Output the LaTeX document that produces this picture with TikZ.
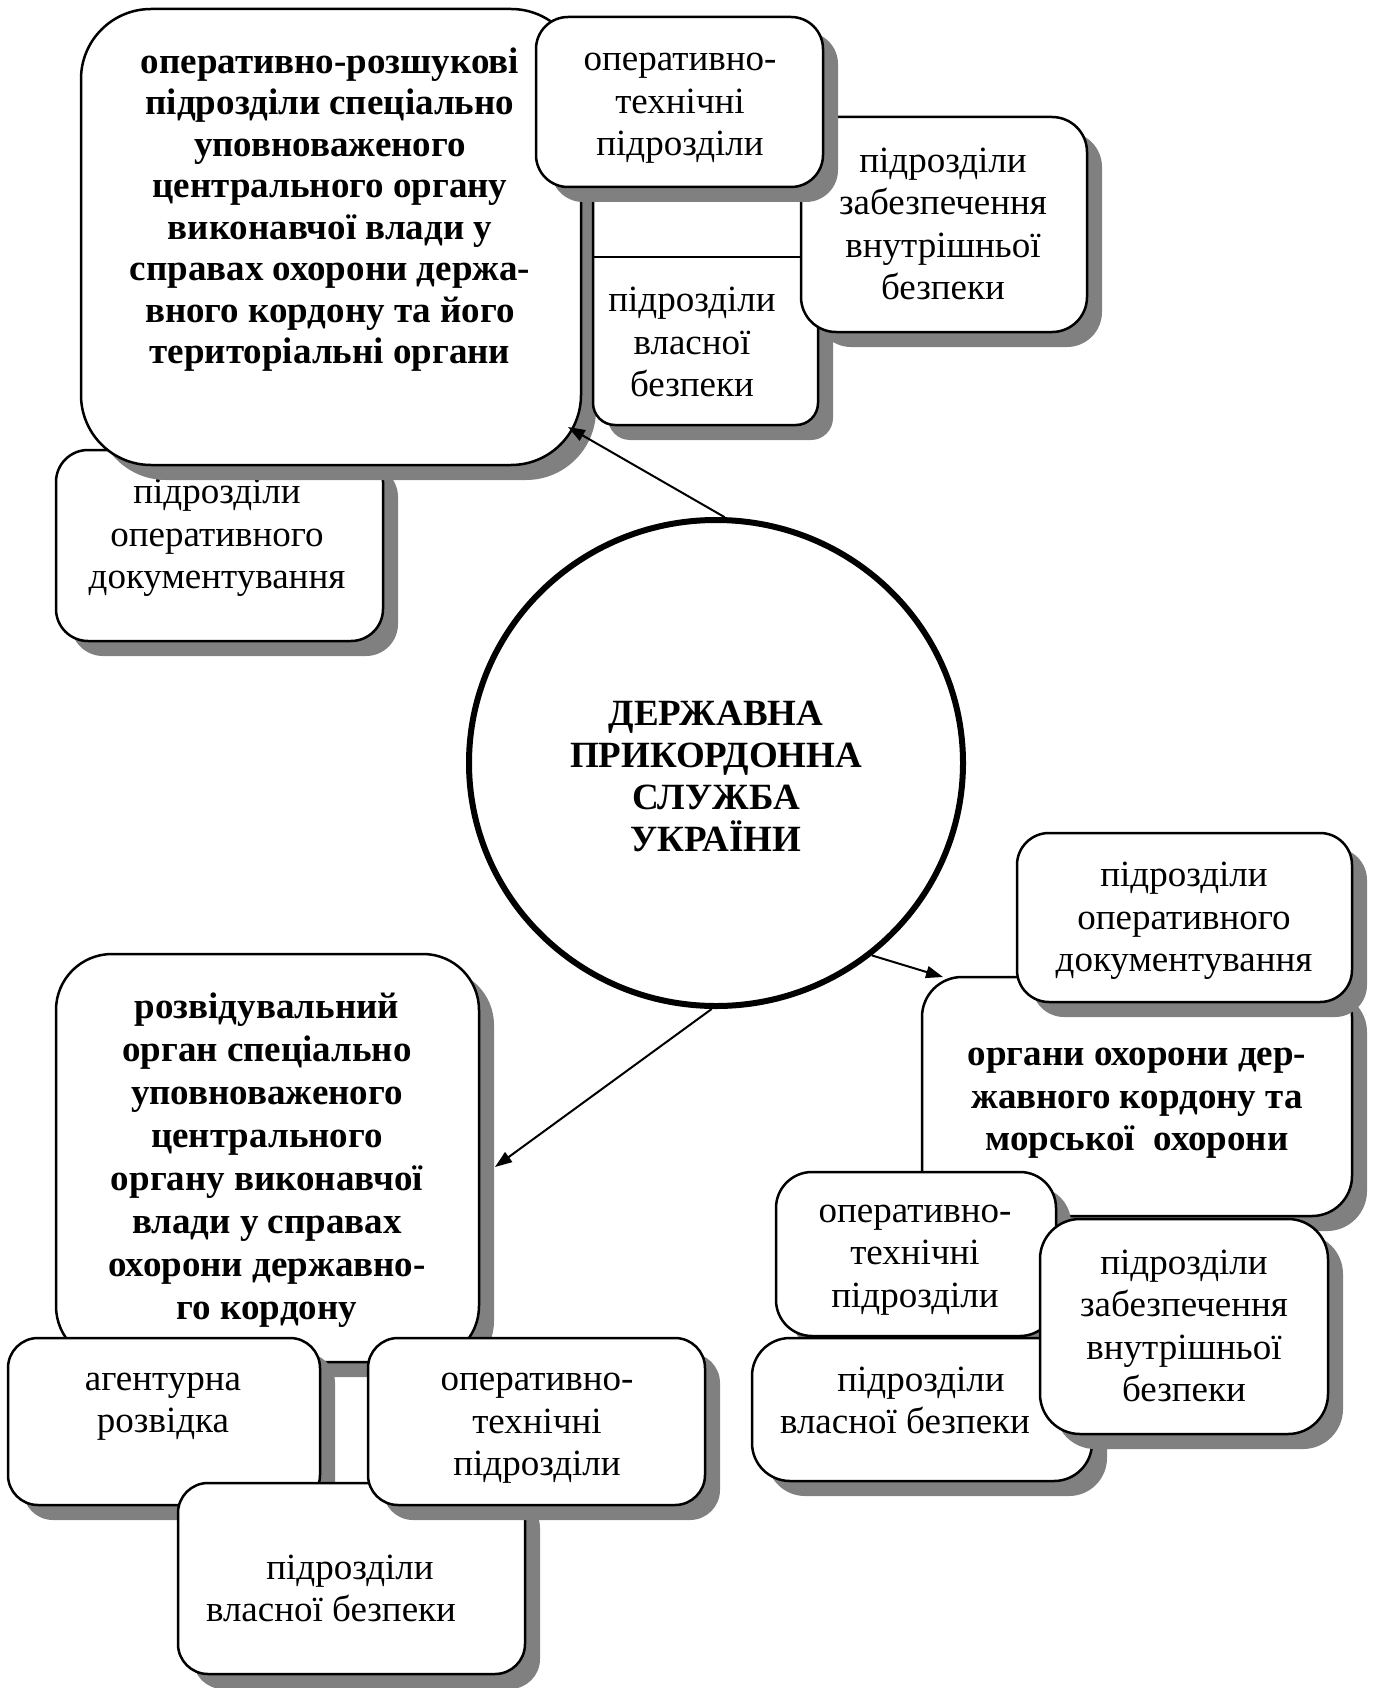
\documentclass[tikz,border=0pt]{standalone}
\usepackage{fontspec}
\setmainfont{Liberation Serif}
\usetikzlibrary{shadows,arrows.meta,shapes.geometric}
\begin{document}
\begin{tikzpicture}[x=1pt,y=-1pt,
  box/.style={draw=black, line width=2.5pt, fill=white, inner sep=0pt, outer sep=0pt,
     drop shadow={shadow xshift=15pt, shadow yshift=-15pt, fill=black!50, opacity=1, draw=none}},
  txt/.style={align=center, inner sep=0pt, font=\fontsize{37}{42.5}\selectfont},
  btxt/.style={align=center, inner sep=0pt, font=\fontsize{37}{41.5}\selectfont\bfseries},
  arr/.style={line width=2pt, -{Triangle[length=17pt,width=12pt]}}
]
\fill[white] (0,0) rectangle (1376,1688);
\useasboundingbox (0,0) rectangle (1376,1688);

% ---------- top cluster ----------
\node[box, rounded corners=32pt, minimum width=327pt, minimum height=191pt] (E) at (219.5,545.5) {};
\node[txt] (Et) at (217,538) {підрозділи\\оперативного\hspace*{44pt}\\документування};

\node[box, rounded corners=70pt, minimum width=500pt, minimum height=456pt] (A) at (331,237) {};
\node[btxt] (At) at (330,209.5) {оперативно-розшукові\\підрозділи спеціально\\уповноваженого\\центрального органу\\виконавчої влади у\\справах охорони держа-\\вного кордону та його\\територіальні органи};

\node[box, rounded corners=22pt, minimum width=225pt, minimum height=275pt] (D) at (705.5,287.5) {};
\draw[line width=2pt] (D.west |- 0,257) -- (D.east |- 0,257);
\node[txt] (Dt) at (692,342) {підрозділи\\власної\\безпеки};

\node[box, rounded corners=35pt, minimum width=286pt, minimum height=215pt] (C) at (944,224.5) {};
\node[txt] (Ct) at (943,224) {підрозділи\\забезпечення\\внутрішньої\\безпеки};

\node[box, rounded corners=32pt, minimum width=287pt, minimum height=170pt] (B) at (679.5,102) {};
\node[txt] (Bt) at (680,108.5) {оперативно-\\технічні\\підрозділи};

% ---------- centre ----------
\node[draw=black, ellipse, line width=6pt, fill=white, inner sep=0pt, minimum width=494pt, minimum height=486pt] (circ) at (716,763) {};
\node[btxt, font=\fontsize{37}{42}\selectfont\bfseries] (circt) at (716,776) {ДЕРЖАВНА\\ПРИКОРДОННА\\СЛУЖБА\\УКРАЇНИ};

% ---------- right cluster ----------
\node[box, rounded corners=40pt, minimum width=430pt, minimum height=239pt] (G) at (1137,1096.5) {};
\node[btxt, font=\fontsize{37}{42.5}\selectfont\bfseries] (Gt) at (1137,1103.5) {органи охорони дер-\\жавного кордону та\\морської\ \ охорони};

\node[box, rounded corners=32pt, minimum width=335pt, minimum height=169pt] (F) at (1184.5,917.5) {};
\node[txt] (Ft) at (1184,921) {підрозділи\\оперативного\\документування};

\node[box, rounded corners=36pt, minimum width=280pt, minimum height=164pt] (H) at (916,1254) {};
\node[txt] (Ht) at (915,1260) {оперативно-\\технічні\\підрозділи};

\node[box, rounded corners=38pt, minimum width=340pt, minimum height=143pt] (J) at (922,1409.5) {};
\node[txt] (Jt) at (905,1400.5) {\hspace*{32pt}підрозділи\\власної безпеки};

\node[box, rounded corners=40pt, minimum width=288pt, minimum height=215pt] (I) at (1184,1326.5) {};
\node[txt] (It) at (1184,1326) {підрозділи\\забезпечення\\внутрішньої\\безпеки};

% ---------- bottom-left cluster ----------
\node[box, rounded corners=56pt, minimum width=423pt, minimum height=408pt] (K) at (267.5,1158) {};
\node[btxt, font=\fontsize{37}{43}\selectfont\bfseries] (Kt) at (267,1160.5) {розвідувальний\\орган спеціально\\уповноваженого\\центрального\\органу виконавчої\\влади у справах\\охорони державно-\\го кордону};

\node[box, rounded corners=30pt, minimum width=312pt, minimum height=167pt] (L) at (164,1421.5) {};
\node[txt] (Lt) at (163,1406.5) {агентурна\\розвідка};

\node[box, rounded corners=30pt, minimum width=347pt, minimum height=191pt] (N) at (351.5,1578.5) {};
\node[txt] (Nt) at (331,1588.5) {\hspace*{38pt}підрозділи\\власної безпеки};

\node[box, rounded corners=30pt, minimum width=337pt, minimum height=167pt] (M) at (536.5,1421.5) {};
\node[txt] (Mt) at (537,1428.5) {оперативно-\\технічні\\підрозділи};

% ---------- connectors ----------
\coordinate (Atip) at (568,427);
\coordinate (Gtip) at (943,977);
\coordinate (Ktip) at (495,1167);
\draw[arr] (circ.88) -- (Atip);
\draw[arr] (circ.-51) -- (Gtip);
\draw[arr] (circ.-91) -- (Ktip);
\end{tikzpicture}
\end{document}
